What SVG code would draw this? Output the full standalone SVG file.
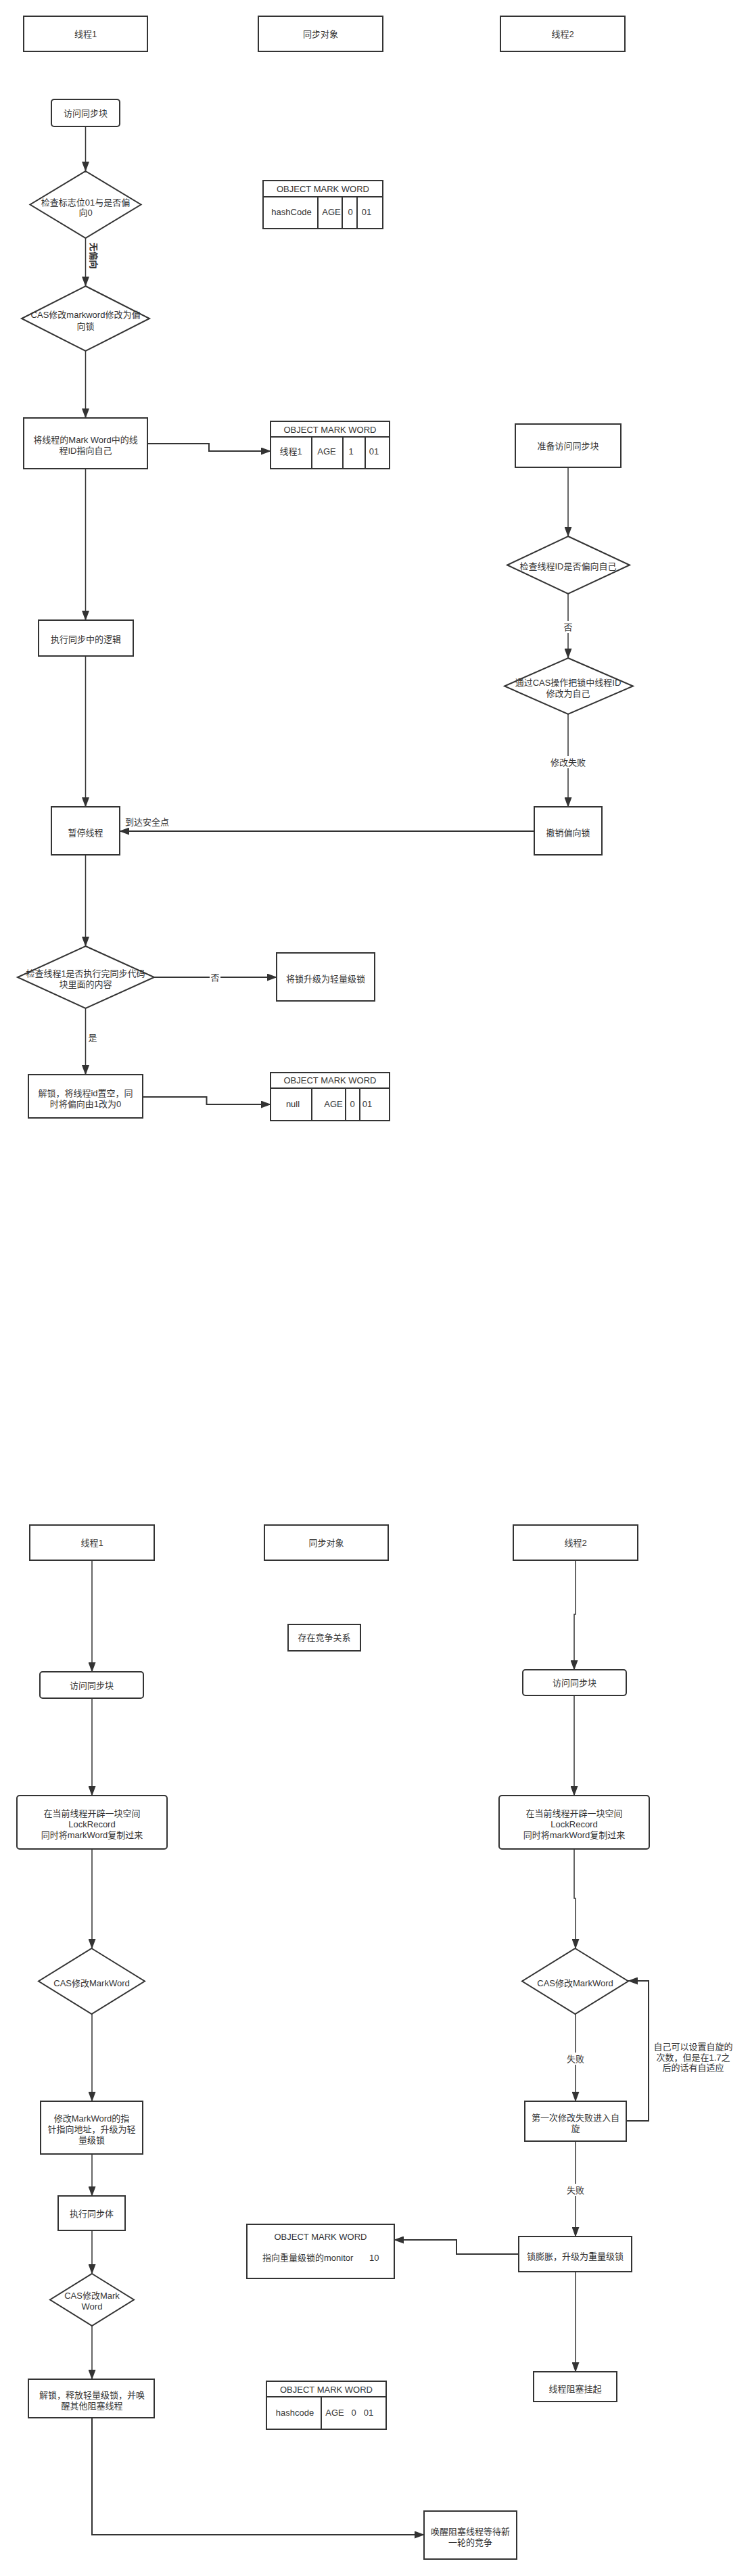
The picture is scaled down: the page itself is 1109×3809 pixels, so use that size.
<svg xmlns="http://www.w3.org/2000/svg" width="1109" height="3809" viewBox="0 0 1109 3809">
<style>
.b{fill:#fff;stroke:#333;stroke-width:2}
.l{fill:none;stroke:#333;stroke-width:1.5}
.t{stroke:#333;stroke-width:2;fill:none}
text{font-family:"Liberation Sans","Noto Sans CJK SC",sans-serif;font-size:13px;fill:#333;text-anchor:middle;dominant-baseline:central}
.lb{fill:#fff;stroke:none}
.s{text-anchor:start}
</style>
<defs>
<marker id="a" markerUnits="userSpaceOnUse" markerWidth="15" markerHeight="11" refX="14" refY="5.5" orient="auto"><path d="M0,0 L15,5.5 L0,11 z" fill="#333"/></marker>
</defs>
<rect width="1109" height="3809" fill="#fff"/>
<g id="connectors">
<path class="l" d="M126.5 187V253" marker-end="url(#a)"/>
<path class="l" d="M126.5 352V423" marker-end="url(#a)"/>
<path class="l" d="M126.5 519V618" marker-end="url(#a)"/>
<path class="t" d="M218 656H309V667H400" marker-end="url(#a)"/>
<path class="l" d="M126.5 693V917" marker-end="url(#a)"/>
<path class="l" d="M126.5 970V1193" marker-end="url(#a)"/>
<path class="l" d="M840 691V793" marker-end="url(#a)"/>
<path class="l" d="M840 878V973" marker-end="url(#a)"/>
<path class="l" d="M840 1056V1193" marker-end="url(#a)"/>
<path class="t" d="M790 1229H177" marker-end="url(#a)"/>
<path class="l" d="M126.5 1264V1399" marker-end="url(#a)"/>
<path class="t" d="M228 1445H409" marker-end="url(#a)"/>
<path class="l" d="M126.5 1491V1589" marker-end="url(#a)"/>
<path class="t" d="M211 1622H305.5V1633H400" marker-end="url(#a)"/>
<path class="l" d="M136 2307V2472" marker-end="url(#a)"/>
<path class="l" d="M851 2307V2387H849V2469" marker-end="url(#a)"/>
<path class="l" d="M136 2511V2655" marker-end="url(#a)"/>
<path class="l" d="M849 2507V2655" marker-end="url(#a)"/>
<path class="l" d="M136 2734V2881" marker-end="url(#a)"/>
<path class="l" d="M849 2734V2807H851V2881" marker-end="url(#a)"/>
<path class="l" d="M136 2978V3107" marker-end="url(#a)"/>
<path class="l" d="M851 2978V3107" marker-end="url(#a)"/>
<path class="t" d="M926 3136H959V2929H929" marker-end="url(#a)"/>
<path class="l" d="M136 3185V3247" marker-end="url(#a)"/>
<path class="l" d="M136 3298V3362" marker-end="url(#a)"/>
<path class="l" d="M136 3439V3518" marker-end="url(#a)"/>
<path class="l" d="M851 3166V3307" marker-end="url(#a)"/>
<path class="t" d="M767 3333H675V3312H583" marker-end="url(#a)"/>
<path class="l" d="M851 3359V3507" marker-end="url(#a)"/>
<path class="t" d="M136 3575V3748H627" marker-end="url(#a)"/>
<text x="138" y="378" transform="rotate(90 138 378)" font-weight="bold">无偏向</text>
<rect class="lb" x="832" y="918" width="16" height="18"/><text x="840" y="927">否</text>
<rect class="lb" x="812" y="1118" width="56" height="18"/><text x="840" y="1127">修改失败</text>
<text x="185" y="1215" class="s">到达安全点</text>
<rect class="lb" x="310" y="1436" width="16" height="18"/><text x="318" y="1445">否</text>
<text x="137" y="1534">是</text>
<rect class="lb" x="837" y="3035" width="28" height="18"/><text x="851" y="3044">失败</text>
<rect class="lb" x="837" y="3229" width="28" height="18"/><text x="851" y="3238">失败</text>
<text x="1025" y="3026" fill="#555">自己可以设置自旋的</text>
<text x="1025" y="3042" fill="#555">次数，但是在1.7之</text>
<text x="1025" y="3057" fill="#555">后的话有自适应</text>
</g>
<g id="t1"><rect class="b" x="35" y="24" width="183" height="52"/><text x="126.5" y="50">线程1</text></g>
<g id="obj"><rect class="b" x="382" y="24" width="184" height="52"/><text x="474" y="50">同步对象</text></g>
<g id="t2"><rect class="b" x="740" y="24" width="184" height="52"/><text x="832" y="50">线程2</text></g>
<g id="n1"><rect class="b" x="76" y="147" width="101" height="40" rx="4"/><text x="126.5" y="167">访问同步块</text></g>
<g id="d1"><polygon class="b" points="126.5,253 208.5,302.5 126.5,352 44.5,302.5"/><text x="126.5" y="299">检查标志位01与是否偏</text><text x="126.5" y="314">向0</text></g>
<g id="d2"><polygon class="b" points="126.5,423 221,471 126.5,519 32,471"/><text x="126.5" y="465">CAS修改markword修改为偏</text><text x="126.5" y="482">向锁</text></g>
<g id="n2"><rect class="b" x="35" y="618" width="183" height="75"/><text x="126.5" y="650">将线程的Mark Word中的线</text><text x="126.5" y="666">程ID指向自己</text></g>
<g id="tab1"><rect class="b" x="389" y="267" width="177" height="71"/><path class="t" d="M389 291H566M470 291V338M506 291V338M528 291V338"/><text x="477.5" y="279">OBJECT MARK WORD</text><text x="431" y="313">hashCode</text><text x="490" y="313">AGE</text><text x="518" y="313">0</text><text x="542" y="313">01</text></g>
<g id="tab2"><rect class="b" x="400" y="623" width="176" height="70"/><path class="t" d="M400 646H576M461 646V693M507 646V693M540 646V693"/><text x="488" y="635">OBJECT MARK WORD</text><text x="430" y="667">线程1</text><text x="483" y="667">AGE</text><text x="519" y="667">1</text><text x="553" y="667">01</text></g>
<g id="n3"><rect class="b" x="762" y="627" width="156" height="64"/><text x="840" y="659">准备访问同步块</text></g>
<g id="d3"><polygon class="b" points="840,793 931,835.5 840,878 750,835.5"/><text x="840" y="837">检查线程ID是否偏向自己</text></g>
<g id="d4"><polygon class="b" points="840,973 936,1014.5 840,1056 746,1014.5"/><text x="840" y="1009">通过CAS操作把锁中线程ID</text><text x="840" y="1025">修改为自己</text></g>
<g id="n4"><rect class="b" x="57" y="917" width="140" height="53"/><text x="127" y="945">执行同步中的逻辑</text></g>
<g id="n5"><rect class="b" x="790" y="1193" width="100" height="71"/><text x="840" y="1231">撤销偏向锁</text></g>
<g id="n6"><rect class="b" x="76" y="1193" width="101" height="71"/><text x="126.5" y="1231">暂停线程</text></g>
<g id="d5"><polygon class="b" points="126.5,1399 228,1445 126.5,1491 26,1445"/><text x="126.5" y="1439">检查线程1是否执行完同步代码</text><text x="126.5" y="1455">块里面的内容</text></g>
<g id="n7"><rect class="b" x="409" y="1409" width="145" height="71"/><text x="481.5" y="1447">将锁升级为轻量级锁</text></g>
<g id="n8"><rect class="b" x="42" y="1589" width="169" height="64"/><text x="126.5" y="1616">解锁，将线程id置空，同</text><text x="126.5" y="1632">时将偏向由1改为0</text></g>
<g id="tab3"><rect class="b" x="400" y="1586" width="176" height="71"/><path class="t" d="M400 1609H576M461 1609V1657M511 1609V1657M532 1609V1657"/><text x="488" y="1597">OBJECT MARK WORD</text><text x="433" y="1632">null</text><text x="493" y="1632">AGE</text><text x="521" y="1632">0</text><text x="543" y="1632">01</text></g>
<g id="b_t1"><rect class="b" x="44" y="2255" width="184" height="52"/><text x="136" y="2281">线程1</text></g>
<g id="b_obj"><rect class="b" x="391" y="2255" width="183" height="52"/><text x="482.5" y="2281">同步对象</text></g>
<g id="b_t2"><rect class="b" x="759" y="2255" width="184" height="52"/><text x="851" y="2281">线程2</text></g>
<g id="b_comp"><rect class="b" x="426" y="2402" width="107" height="39"/><text x="479.5" y="2421">存在竞争关系</text></g>
<g id="b_n1"><rect class="b" x="59" y="2472" width="153" height="39" rx="4"/><text x="135.5" y="2492">访问同步块</text></g>
<g id="b_n2"><rect class="b" x="773" y="2469" width="153" height="38" rx="4"/><text x="849.5" y="2488">访问同步块</text></g>
<g id="b_n3"><rect class="b" x="25" y="2655" width="222" height="79" rx="4"/><text x="136" y="2681">在当前线程开辟一块空间</text><text x="136" y="2697">LockRecord</text><text x="136" y="2713">同时将markWord复制过来</text></g>
<g id="b_n4"><rect class="b" x="738" y="2655" width="222" height="79" rx="4"/><text x="849" y="2681">在当前线程开辟一块空间</text><text x="849" y="2697">LockRecord</text><text x="849" y="2713">同时将markWord复制过来</text></g>
<g id="b_d1"><polygon class="b" points="135.5,2881 214,2929.5 135.5,2978 57,2929.5"/><text x="135.5" y="2932">CAS修改MarkWord</text></g>
<g id="b_d2"><polygon class="b" points="850.5,2881 929,2929.5 850.5,2978 772,2929.5"/><text x="850.5" y="2932">CAS修改MarkWord</text></g>
<g id="b_n5"><rect class="b" x="60" y="3107" width="151" height="78"/><text x="135.5" y="3132">修改MarkWord的指</text><text x="135.5" y="3148">针指向地址，升级为轻</text><text x="135.5" y="3164">量级锁</text></g>
<g id="b_n6"><rect class="b" x="776" y="3107" width="150" height="59"/><text x="851" y="3131">第一次修改失败进入自</text><text x="851" y="3147">旋</text></g>
<g id="b_n7"><rect class="b" x="86" y="3247" width="99" height="51"/><text x="135.5" y="3273">执行同步体</text></g>
<g id="b_obj2"><rect class="b" x="365" y="3289" width="218" height="80"/><text x="474" y="3307">OBJECT MARK WORD</text><text x="388" y="3338" class="s">指向重量级锁的monitor</text><text x="546" y="3338" class="s">10</text></g>
<g id="b_n8"><rect class="b" x="767" y="3307" width="167" height="52"/><text x="850.5" y="3336">锁膨胀，升级为重量级锁</text></g>
<g id="b_d3"><polygon class="b" points="136,3362 198,3400.5 136,3439 74,3400.5"/><text x="136" y="3394">CAS修改Mark</text><text x="136" y="3410">Word</text></g>
<g id="b_n9"><rect class="b" x="42" y="3518" width="186" height="57"/><text x="136" y="3541">解锁，释放轻量级锁，并唤</text><text x="136" y="3557">醒其他阻塞线程</text></g>
<g id="b_tab"><rect class="b" x="394" y="3521" width="177" height="71"/><path class="t" d="M394 3544H571M475 3544V3592"/><text x="482.5" y="3533">OBJECT MARK WORD</text><text x="436" y="3567">hashcode</text><text y="3567"><tspan x="495">AGE</tspan><tspan x="523">0</tspan><tspan x="545">01</tspan></text></g>
<g id="b_n10"><rect class="b" x="789" y="3507" width="123" height="44"/><text x="850.5" y="3532">线程阻塞挂起</text></g>
<g id="b_n11"><rect class="b" x="627" y="3713" width="137" height="71"/><text x="695.5" y="3743">唤醒阻塞线程等待新</text><text x="695.5" y="3759">一轮的竞争</text></g>
</svg>
